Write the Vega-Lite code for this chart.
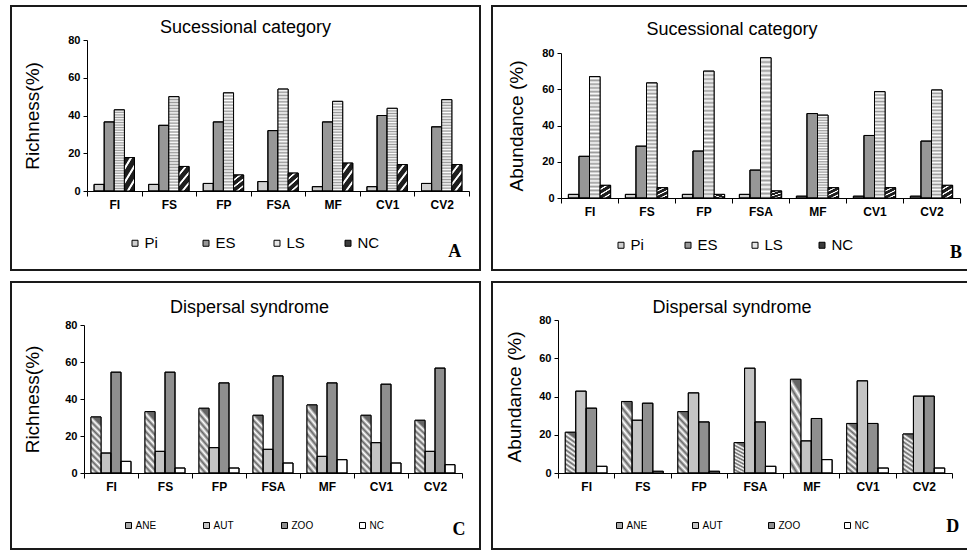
{
  "$schema": "https://vega.github.io/schema/vega-lite/v6.json",
  "padding": {"left": 10, "top": 5, "right": 0, "bottom": 0},
  "background": "white",
  "datasets": {
    "A": [
      {"site": "FI", "cat": "Pi", "value": 3.5}, {"site": "FI", "cat": "ES", "value": 36.6}, {"site": "FI", "cat": "LS", "value": 43}, {"site": "FI", "cat": "NC", "value": 17.7},
      {"site": "FS", "cat": "Pi", "value": 3.5}, {"site": "FS", "cat": "ES", "value": 34.8}, {"site": "FS", "cat": "LS", "value": 50}, {"site": "FS", "cat": "NC", "value": 13},
      {"site": "FP", "cat": "Pi", "value": 4}, {"site": "FP", "cat": "ES", "value": 36.6}, {"site": "FP", "cat": "LS", "value": 52}, {"site": "FP", "cat": "NC", "value": 8.5},
      {"site": "FSA", "cat": "Pi", "value": 5}, {"site": "FSA", "cat": "ES", "value": 32}, {"site": "FSA", "cat": "LS", "value": 54}, {"site": "FSA", "cat": "NC", "value": 9.5},
      {"site": "MF", "cat": "Pi", "value": 2.3}, {"site": "MF", "cat": "ES", "value": 36.6}, {"site": "MF", "cat": "LS", "value": 47.5}, {"site": "MF", "cat": "NC", "value": 14.8},
      {"site": "CV1", "cat": "Pi", "value": 2.3}, {"site": "CV1", "cat": "ES", "value": 40}, {"site": "CV1", "cat": "LS", "value": 43.8}, {"site": "CV1", "cat": "NC", "value": 14},
      {"site": "CV2", "cat": "Pi", "value": 4}, {"site": "CV2", "cat": "ES", "value": 34}, {"site": "CV2", "cat": "LS", "value": 48.4}, {"site": "CV2", "cat": "NC", "value": 14}
    ],
    "B": [
      {"site": "FI", "cat": "Pi", "value": 2}, {"site": "FI", "cat": "ES", "value": 23}, {"site": "FI", "cat": "LS", "value": 67}, {"site": "FI", "cat": "NC", "value": 7},
      {"site": "FS", "cat": "Pi", "value": 2}, {"site": "FS", "cat": "ES", "value": 28.6}, {"site": "FS", "cat": "LS", "value": 63.5}, {"site": "FS", "cat": "NC", "value": 5.7},
      {"site": "FP", "cat": "Pi", "value": 2}, {"site": "FP", "cat": "ES", "value": 25.9}, {"site": "FP", "cat": "LS", "value": 70}, {"site": "FP", "cat": "NC", "value": 2},
      {"site": "FSA", "cat": "Pi", "value": 2}, {"site": "FSA", "cat": "ES", "value": 15.4}, {"site": "FSA", "cat": "LS", "value": 77.4}, {"site": "FSA", "cat": "NC", "value": 3.9},
      {"site": "MF", "cat": "Pi", "value": 1}, {"site": "MF", "cat": "ES", "value": 46.6}, {"site": "MF", "cat": "LS", "value": 45.7}, {"site": "MF", "cat": "NC", "value": 5.7},
      {"site": "CV1", "cat": "Pi", "value": 1}, {"site": "CV1", "cat": "ES", "value": 34.5}, {"site": "CV1", "cat": "LS", "value": 58.7}, {"site": "CV1", "cat": "NC", "value": 5.7},
      {"site": "CV2", "cat": "Pi", "value": 1}, {"site": "CV2", "cat": "ES", "value": 31.4}, {"site": "CV2", "cat": "LS", "value": 59.6}, {"site": "CV2", "cat": "NC", "value": 7}
    ],
    "C": [
      {"site": "FI", "cat": "ANE", "value": 30.3}, {"site": "FI", "cat": "AUT", "value": 10.8}, {"site": "FI", "cat": "ZOO", "value": 54.5}, {"site": "FI", "cat": "NC", "value": 6.3},
      {"site": "FS", "cat": "ANE", "value": 33.2}, {"site": "FS", "cat": "AUT", "value": 11.7}, {"site": "FS", "cat": "ZOO", "value": 54.5}, {"site": "FS", "cat": "NC", "value": 2.7},
      {"site": "FP", "cat": "ANE", "value": 35}, {"site": "FP", "cat": "AUT", "value": 13.7}, {"site": "FP", "cat": "ZOO", "value": 48.7}, {"site": "FP", "cat": "NC", "value": 2.7},
      {"site": "FSA", "cat": "ANE", "value": 31.2}, {"site": "FSA", "cat": "AUT", "value": 12.8}, {"site": "FSA", "cat": "ZOO", "value": 52.5}, {"site": "FSA", "cat": "NC", "value": 5.4},
      {"site": "MF", "cat": "ANE", "value": 36.8}, {"site": "MF", "cat": "AUT", "value": 9}, {"site": "MF", "cat": "ZOO", "value": 48.7}, {"site": "MF", "cat": "NC", "value": 7.2},
      {"site": "CV1", "cat": "ANE", "value": 31.2}, {"site": "CV1", "cat": "AUT", "value": 16.4}, {"site": "CV1", "cat": "ZOO", "value": 48}, {"site": "CV1", "cat": "NC", "value": 5.4},
      {"site": "CV2", "cat": "ANE", "value": 28.5}, {"site": "CV2", "cat": "AUT", "value": 11.7}, {"site": "CV2", "cat": "ZOO", "value": 56.7}, {"site": "CV2", "cat": "NC", "value": 4.5}
    ],
    "D": [
      {"site": "FI", "cat": "ANE", "value": 21.3}, {"site": "FI", "cat": "AUT", "value": 42.8}, {"site": "FI", "cat": "ZOO", "value": 33.9}, {"site": "FI", "cat": "NC", "value": 3.5},
      {"site": "FS", "cat": "ANE", "value": 37.4}, {"site": "FS", "cat": "AUT", "value": 27.6}, {"site": "FS", "cat": "ZOO", "value": 36.5}, {"site": "FS", "cat": "NC", "value": 0.9},
      {"site": "FP", "cat": "ANE", "value": 32.1}, {"site": "FP", "cat": "AUT", "value": 41.9}, {"site": "FP", "cat": "ZOO", "value": 26.7}, {"site": "FP", "cat": "NC", "value": 0.9},
      {"site": "FSA", "cat": "ANE", "value": 15.9}, {"site": "FSA", "cat": "AUT", "value": 54.8}, {"site": "FSA", "cat": "ZOO", "value": 26.7}, {"site": "FSA", "cat": "NC", "value": 3.5},
      {"site": "MF", "cat": "ANE", "value": 49}, {"site": "MF", "cat": "AUT", "value": 16.8}, {"site": "MF", "cat": "ZOO", "value": 28.5}, {"site": "MF", "cat": "NC", "value": 7},
      {"site": "CV1", "cat": "ANE", "value": 25.9}, {"site": "CV1", "cat": "AUT", "value": 48.2}, {"site": "CV1", "cat": "ZOO", "value": 25.9}, {"site": "CV1", "cat": "NC", "value": 2.6},
      {"site": "CV2", "cat": "ANE", "value": 20.4}, {"site": "CV2", "cat": "AUT", "value": 40.2}, {"site": "CV2", "cat": "ZOO", "value": 40.2}, {"site": "CV2", "cat": "NC", "value": 2.6}
    ]
  },
  "columns": 2,
  "spacing": 12,
  "bounds": "flush",
  "resolve": {"scale": {"fill": "independent", "xOffset": "independent", "x": "independent", "y": "independent"}, "legend": {"fill": "independent"}, "axis": {"x": "independent", "y": "independent"}},
  "concat": [
    {
      "width": 469, "height": 264,
      "title": {"text": "Sucessional category", "offset": -21, "dy": 19, "baseline": "middle", "anchor": "middle", "frame": "group"},
      "layer": [
        {
          "data": {"name": "A"},
          "mark": {"type": "bar", "stroke": "#000", "strokeWidth": 1},
          "encoding": {
            "x": {"field": "site", "type": "nominal", "sort": ["FI", "FS", "FP", "FSA", "MF", "CV1", "CV2"],
              "scale": {"domain": ["FI", "FS", "FP", "FSA", "MF", "CV1", "CV2"], "range": [76, 458], "paddingInner": 0, "paddingOuter": 0},
              "axis": {"title": null, "orient": "bottom", "offset": -79, "labelAngle": 0, "tickBand": "extent", "tickSize": 5, "labelPadding": 3}},
            "xOffset": {"field": "cat", "type": "nominal", "sort": ["Pi", "ES", "LS", "NC"], "scale": {"domain": ["Pi", "ES", "LS", "NC"], "paddingOuter": 0.7, "paddingInner": 0}},
            "y": {"field": "value", "type": "quantitative",
              "scale": {"domain": [0, 80], "range": [185, 34]},
              "axis": {"title": "Richness(%)", "offset": -76, "values": [0, 20, 40, 60, 80], "tickSize": 4, "labelPadding": 3, "titlePadding": 25}},
            "fill": {"field": "cat", "type": "nominal", "sort": ["Pi", "ES", "LS", "NC"],
              "scale": {"domain": ["Pi", "ES", "LS", "NC"], "range": ["#cfcfcf", "#979797", "#e6e6e6", "#3c3c3c"]},
              "legend": {"title": null, "orient": "none", "legendX": 116.5, "legendY": 229.5, "direction": "horizontal", "columns": 4, "gridAlign": "all", "columnPadding": 32, "labelFontSize": 15, "labelOffset": 2, "padding": 0}}
          }
        },
        {
          "data": {"name": "A"},
          "mark": {"type": "bar", "stroke": "#000", "strokeWidth": 1},
          "encoding": {
            "x": {"field": "site", "type": "nominal"},
            "xOffset": {"field": "cat", "type": "nominal"},
            "y": {"field": "value", "type": "quantitative"},
            "fill": {
              "condition": [
                {"test": "datum.cat === 'LS'", "value": {"gradient": "linear", "x1": 0, "y1": 0, "x2": 0, "y2": 1, "stops": [{"offset":0,"color":"#9a9a9a"},{"offset":0.015625,"color":"#fff"},{"offset":0.03125,"color":"#9a9a9a"},{"offset":0.046875,"color":"#fff"},{"offset":0.0625,"color":"#9a9a9a"},{"offset":0.078125,"color":"#fff"},{"offset":0.09375,"color":"#9a9a9a"},{"offset":0.109375,"color":"#fff"},{"offset":0.125,"color":"#9a9a9a"},{"offset":0.140625,"color":"#fff"},{"offset":0.15625,"color":"#9a9a9a"},{"offset":0.171875,"color":"#fff"},{"offset":0.1875,"color":"#9a9a9a"},{"offset":0.203125,"color":"#fff"},{"offset":0.21875,"color":"#9a9a9a"},{"offset":0.234375,"color":"#fff"},{"offset":0.25,"color":"#9a9a9a"},{"offset":0.265625,"color":"#fff"},{"offset":0.28125,"color":"#9a9a9a"},{"offset":0.296875,"color":"#fff"},{"offset":0.3125,"color":"#9a9a9a"},{"offset":0.328125,"color":"#fff"},{"offset":0.34375,"color":"#9a9a9a"},{"offset":0.359375,"color":"#fff"},{"offset":0.375,"color":"#9a9a9a"},{"offset":0.390625,"color":"#fff"},{"offset":0.40625,"color":"#9a9a9a"},{"offset":0.421875,"color":"#fff"},{"offset":0.4375,"color":"#9a9a9a"},{"offset":0.453125,"color":"#fff"},{"offset":0.46875,"color":"#9a9a9a"},{"offset":0.484375,"color":"#fff"},{"offset":0.5,"color":"#9a9a9a"},{"offset":0.515625,"color":"#fff"},{"offset":0.53125,"color":"#9a9a9a"},{"offset":0.546875,"color":"#fff"},{"offset":0.5625,"color":"#9a9a9a"},{"offset":0.578125,"color":"#fff"},{"offset":0.59375,"color":"#9a9a9a"},{"offset":0.609375,"color":"#fff"},{"offset":0.625,"color":"#9a9a9a"},{"offset":0.640625,"color":"#fff"},{"offset":0.65625,"color":"#9a9a9a"},{"offset":0.671875,"color":"#fff"},{"offset":0.6875,"color":"#9a9a9a"},{"offset":0.703125,"color":"#fff"},{"offset":0.71875,"color":"#9a9a9a"},{"offset":0.734375,"color":"#fff"},{"offset":0.75,"color":"#9a9a9a"},{"offset":0.765625,"color":"#fff"},{"offset":0.78125,"color":"#9a9a9a"},{"offset":0.796875,"color":"#fff"},{"offset":0.8125,"color":"#9a9a9a"},{"offset":0.828125,"color":"#fff"},{"offset":0.84375,"color":"#9a9a9a"},{"offset":0.859375,"color":"#fff"},{"offset":0.875,"color":"#9a9a9a"},{"offset":0.890625,"color":"#fff"},{"offset":0.90625,"color":"#9a9a9a"},{"offset":0.921875,"color":"#fff"},{"offset":0.9375,"color":"#9a9a9a"},{"offset":0.953125,"color":"#fff"},{"offset":0.96875,"color":"#9a9a9a"},{"offset":0.984375,"color":"#fff"},{"offset":1,"color":"#9a9a9a"}]}},
                {"test": "datum.cat === 'NC'", "value": {"gradient": "linear", "x1": 0, "y1": 0, "x2": 0.5, "y2": 1, "stops": [{"offset":0,"color":"#1e1e1e"},{"offset":0.2,"color":"#1e1e1e"},{"offset":0.24,"color":"#fff"},{"offset":0.3,"color":"#fff"},{"offset":0.333,"color":"#1e1e1e"},{"offset":0.533,"color":"#1e1e1e"},{"offset":0.573,"color":"#fff"},{"offset":0.633,"color":"#fff"},{"offset":0.667,"color":"#1e1e1e"},{"offset":0.867,"color":"#1e1e1e"},{"offset":0.907,"color":"#fff"},{"offset":0.967,"color":"#fff"},{"offset":1,"color":"#1e1e1e"}]}}
              ],
              "value": "transparent"
            }
          }
        },
        {
          "data": {"values": [{"t": "A"}]},
          "mark": {"type": "text", "font": "Liberation Serif", "fontWeight": "bold", "fontSize": 18, "align": "center", "baseline": "middle", "dx": 13, "color": "#000"},
          "encoding": {"x": {"datum": "CV2", "type": "nominal"}, "y": {"datum": -32.3, "type": "quantitative"}, "text": {"field": "t"}}
        }
      ]
    },
    {
      "width": 480, "height": 264,
      "title": {"text": "Sucessional category", "offset": -22, "dy": 20, "baseline": "middle", "anchor": "middle", "frame": "group"},
      "layer": [
        {
          "data": {"name": "B"},
          "mark": {"type": "bar", "stroke": "#000", "strokeWidth": 1},
          "encoding": {
            "x": {"field": "site", "type": "nominal", "sort": ["FI", "FS", "FP", "FSA", "MF", "CV1", "CV2"],
              "scale": {"domain": ["FI", "FS", "FP", "FSA", "MF", "CV1", "CV2"], "range": [69, 468], "paddingInner": 0, "paddingOuter": 0},
              "axis": {"title": null, "orient": "bottom", "offset": -72, "labelAngle": 0, "tickBand": "extent", "tickSize": 5, "labelPadding": 3}},
            "xOffset": {"field": "cat", "type": "nominal", "sort": ["Pi", "ES", "LS", "NC"], "scale": {"domain": ["Pi", "ES", "LS", "NC"], "paddingOuter": 0.7, "paddingInner": 0}},
            "y": {"field": "value", "type": "quantitative",
              "scale": {"domain": [0, 80], "range": [192, 47]},
              "axis": {"title": "Abundance (%)", "offset": -69, "values": [0, 20, 40, 60, 80], "tickSize": 4, "labelPadding": 3, "titlePadding": 15}},
            "fill": {"field": "cat", "type": "nominal", "sort": ["Pi", "ES", "LS", "NC"],
              "scale": {"domain": ["Pi", "ES", "LS", "NC"], "range": ["#cfcfcf", "#979797", "#e6e6e6", "#3c3c3c"]},
              "legend": {"title": null, "orient": "none", "legendX": 121.5, "legendY": 231.5, "direction": "horizontal", "columns": 4, "gridAlign": "all", "columnPadding": 28, "labelFontSize": 15, "labelOffset": 2, "padding": 0}}
          }
        },
        {
          "data": {"name": "B"},
          "mark": {"type": "bar", "stroke": "#000", "strokeWidth": 1},
          "encoding": {
            "x": {"field": "site", "type": "nominal"},
            "xOffset": {"field": "cat", "type": "nominal"},
            "y": {"field": "value", "type": "quantitative"},
            "fill": {
              "condition": [
                {"test": "datum.cat === 'LS'", "value": {"gradient": "linear", "x1": 0, "y1": 0, "x2": 0, "y2": 1, "stops": [{"offset":0,"color":"#9a9a9a"},{"offset":0.015625,"color":"#fff"},{"offset":0.03125,"color":"#9a9a9a"},{"offset":0.046875,"color":"#fff"},{"offset":0.0625,"color":"#9a9a9a"},{"offset":0.078125,"color":"#fff"},{"offset":0.09375,"color":"#9a9a9a"},{"offset":0.109375,"color":"#fff"},{"offset":0.125,"color":"#9a9a9a"},{"offset":0.140625,"color":"#fff"},{"offset":0.15625,"color":"#9a9a9a"},{"offset":0.171875,"color":"#fff"},{"offset":0.1875,"color":"#9a9a9a"},{"offset":0.203125,"color":"#fff"},{"offset":0.21875,"color":"#9a9a9a"},{"offset":0.234375,"color":"#fff"},{"offset":0.25,"color":"#9a9a9a"},{"offset":0.265625,"color":"#fff"},{"offset":0.28125,"color":"#9a9a9a"},{"offset":0.296875,"color":"#fff"},{"offset":0.3125,"color":"#9a9a9a"},{"offset":0.328125,"color":"#fff"},{"offset":0.34375,"color":"#9a9a9a"},{"offset":0.359375,"color":"#fff"},{"offset":0.375,"color":"#9a9a9a"},{"offset":0.390625,"color":"#fff"},{"offset":0.40625,"color":"#9a9a9a"},{"offset":0.421875,"color":"#fff"},{"offset":0.4375,"color":"#9a9a9a"},{"offset":0.453125,"color":"#fff"},{"offset":0.46875,"color":"#9a9a9a"},{"offset":0.484375,"color":"#fff"},{"offset":0.5,"color":"#9a9a9a"},{"offset":0.515625,"color":"#fff"},{"offset":0.53125,"color":"#9a9a9a"},{"offset":0.546875,"color":"#fff"},{"offset":0.5625,"color":"#9a9a9a"},{"offset":0.578125,"color":"#fff"},{"offset":0.59375,"color":"#9a9a9a"},{"offset":0.609375,"color":"#fff"},{"offset":0.625,"color":"#9a9a9a"},{"offset":0.640625,"color":"#fff"},{"offset":0.65625,"color":"#9a9a9a"},{"offset":0.671875,"color":"#fff"},{"offset":0.6875,"color":"#9a9a9a"},{"offset":0.703125,"color":"#fff"},{"offset":0.71875,"color":"#9a9a9a"},{"offset":0.734375,"color":"#fff"},{"offset":0.75,"color":"#9a9a9a"},{"offset":0.765625,"color":"#fff"},{"offset":0.78125,"color":"#9a9a9a"},{"offset":0.796875,"color":"#fff"},{"offset":0.8125,"color":"#9a9a9a"},{"offset":0.828125,"color":"#fff"},{"offset":0.84375,"color":"#9a9a9a"},{"offset":0.859375,"color":"#fff"},{"offset":0.875,"color":"#9a9a9a"},{"offset":0.890625,"color":"#fff"},{"offset":0.90625,"color":"#9a9a9a"},{"offset":0.921875,"color":"#fff"},{"offset":0.9375,"color":"#9a9a9a"},{"offset":0.953125,"color":"#fff"},{"offset":0.96875,"color":"#9a9a9a"},{"offset":0.984375,"color":"#fff"},{"offset":1,"color":"#9a9a9a"}]}},
                {"test": "datum.cat === 'NC'", "value": {"gradient": "linear", "x1": 0, "y1": 0, "x2": 0.5, "y2": 1, "stops": [{"offset":0,"color":"#1e1e1e"},{"offset":0.2,"color":"#1e1e1e"},{"offset":0.24,"color":"#fff"},{"offset":0.3,"color":"#fff"},{"offset":0.333,"color":"#1e1e1e"},{"offset":0.533,"color":"#1e1e1e"},{"offset":0.573,"color":"#fff"},{"offset":0.633,"color":"#fff"},{"offset":0.667,"color":"#1e1e1e"},{"offset":0.867,"color":"#1e1e1e"},{"offset":0.907,"color":"#fff"},{"offset":0.967,"color":"#fff"},{"offset":1,"color":"#1e1e1e"}]}}
              ],
              "value": "transparent"
            }
          }
        },
        {
          "data": {"values": [{"t": "B"}]},
          "mark": {"type": "text", "font": "Liberation Serif", "fontWeight": "bold", "fontSize": 18, "align": "center", "baseline": "middle", "dx": 24.5, "color": "#000"},
          "encoding": {"x": {"datum": "CV2", "type": "nominal"}, "y": {"datum": -30.3, "type": "quantitative"}, "text": {"field": "t"}}
        }
      ]
    },
    {
      "width": 469, "height": 267,
      "title": {"text": "Dispersal syndrome", "offset": -23, "dy": 21, "baseline": "middle", "anchor": "middle", "frame": "group", "dx": 4},
      "layer": [
        {
          "data": {"name": "C"},
          "mark": {"type": "bar", "stroke": "#000", "strokeWidth": 1},
          "encoding": {
            "x": {"field": "site", "type": "nominal", "sort": ["FI", "FS", "FP", "FSA", "MF", "CV1", "CV2"],
              "scale": {"domain": ["FI", "FS", "FP", "FSA", "MF", "CV1", "CV2"], "range": [73, 451], "paddingInner": 0, "paddingOuter": 0},
              "axis": {"title": null, "orient": "bottom", "offset": -76, "labelAngle": 0, "tickBand": "extent", "tickSize": 5, "labelPadding": 3}},
            "xOffset": {"field": "cat", "type": "nominal", "sort": ["ANE", "AUT", "ZOO", "NC"], "scale": {"domain": ["ANE", "AUT", "ZOO", "NC"], "paddingOuter": 0.7, "paddingInner": 0}},
            "y": {"field": "value", "type": "quantitative",
              "scale": {"domain": [0, 80], "range": [191, 43]},
              "axis": {"title": "Richness(%)", "offset": -73, "values": [0, 20, 40, 60, 80], "tickSize": 4, "labelPadding": 3, "titlePadding": 22}},
            "fill": {"field": "cat", "type": "nominal", "sort": ["ANE", "AUT", "ZOO", "NC"],
              "scale": {"domain": ["ANE", "AUT", "ZOO", "NC"], "range": ["#a9a9a9", "#c4c4c4", "#8f8f8f", "#ffffff"]},
              "legend": {"title": null, "orient": "none", "legendX": 112.5, "legendY": 238.5, "direction": "horizontal", "columns": 4, "gridAlign": "all", "columnPadding": 44, "labelFontSize": 10, "labelOffset": 2, "padding": 0}}
          }
        },
        {
          "data": {"name": "C"},
          "mark": {"type": "bar", "stroke": "#000", "strokeWidth": 1},
          "encoding": {
            "x": {"field": "site", "type": "nominal"},
            "xOffset": {"field": "cat", "type": "nominal"},
            "y": {"field": "value", "type": "quantitative"},
            "fill": {
              "condition": [
                {"test": "datum.cat === 'ANE'", "value": {"gradient": "linear", "x1": 0.18, "y1": 0, "x2": 0, "y2": 1, "stops": [{"offset":0,"color":"#666666"},{"offset":0.0556,"color":"#fff"},{"offset":0.1111,"color":"#666666"},{"offset":0.1667,"color":"#fff"},{"offset":0.2222,"color":"#666666"},{"offset":0.2778,"color":"#fff"},{"offset":0.3333,"color":"#666666"},{"offset":0.3889,"color":"#fff"},{"offset":0.4444,"color":"#666666"},{"offset":0.5,"color":"#fff"},{"offset":0.5556,"color":"#666666"},{"offset":0.6111,"color":"#fff"},{"offset":0.6667,"color":"#666666"},{"offset":0.7222,"color":"#fff"},{"offset":0.7778,"color":"#666666"},{"offset":0.8333,"color":"#fff"},{"offset":0.8889,"color":"#666666"},{"offset":0.9444,"color":"#fff"},{"offset":1,"color":"#666666"}]}}
              ],
              "value": "transparent"
            }
          }
        },
        {
          "data": {"values": [{"t": "C"}]},
          "mark": {"type": "text", "font": "Liberation Serif", "fontWeight": "bold", "fontSize": 18, "align": "center", "baseline": "middle", "dx": 24, "color": "#000"},
          "encoding": {"x": {"datum": "CV2", "type": "nominal"}, "y": {"datum": -30.8, "type": "quantitative"}, "text": {"field": "t"}}
        }
      ]
    },
    {
      "width": 480, "height": 267,
      "title": {"text": "Dispersal syndrome", "offset": -23, "dy": 21, "baseline": "middle", "anchor": "middle", "frame": "group"},
      "layer": [
        {
          "data": {"name": "D"},
          "mark": {"type": "bar", "stroke": "#000", "strokeWidth": 1},
          "encoding": {
            "x": {"field": "site", "type": "nominal", "sort": ["FI", "FS", "FP", "FSA", "MF", "CV1", "CV2"],
              "scale": {"domain": ["FI", "FS", "FP", "FSA", "MF", "CV1", "CV2"], "range": [66, 460], "paddingInner": 0, "paddingOuter": 0},
              "axis": {"title": null, "orient": "bottom", "offset": -76, "labelAngle": 0, "tickBand": "extent", "tickSize": 5, "labelPadding": 3}},
            "xOffset": {"field": "cat", "type": "nominal", "sort": ["ANE", "AUT", "ZOO", "NC"], "scale": {"domain": ["ANE", "AUT", "ZOO", "NC"], "paddingOuter": 0.7, "paddingInner": 0}},
            "y": {"field": "value", "type": "quantitative",
              "scale": {"domain": [0, 80], "range": [191, 38]},
              "axis": {"title": "Abundance (%)", "offset": -66, "values": [0, 20, 40, 60, 80], "tickSize": 4, "labelPadding": 3, "titlePadding": 14}},
            "fill": {"field": "cat", "type": "nominal", "sort": ["ANE", "AUT", "ZOO", "NC"],
              "scale": {"domain": ["ANE", "AUT", "ZOO", "NC"], "range": ["#a9a9a9", "#c4c4c4", "#8f8f8f", "#ffffff"]},
              "legend": {"title": null, "orient": "none", "legendX": 122.5, "legendY": 238.5, "direction": "horizontal", "columns": 4, "gridAlign": "all", "columnPadding": 42, "labelFontSize": 10, "labelOffset": 2, "padding": 0}}
          }
        },
        {
          "data": {"name": "D"},
          "mark": {"type": "bar", "stroke": "#000", "strokeWidth": 1},
          "encoding": {
            "x": {"field": "site", "type": "nominal"},
            "xOffset": {"field": "cat", "type": "nominal"},
            "y": {"field": "value", "type": "quantitative"},
            "fill": {
              "condition": [
                {"test": "datum.cat === 'ANE'", "value": {"gradient": "linear", "x1": 0.18, "y1": 0, "x2": 0, "y2": 1, "stops": [{"offset":0,"color":"#666666"},{"offset":0.0556,"color":"#fff"},{"offset":0.1111,"color":"#666666"},{"offset":0.1667,"color":"#fff"},{"offset":0.2222,"color":"#666666"},{"offset":0.2778,"color":"#fff"},{"offset":0.3333,"color":"#666666"},{"offset":0.3889,"color":"#fff"},{"offset":0.4444,"color":"#666666"},{"offset":0.5,"color":"#fff"},{"offset":0.5556,"color":"#666666"},{"offset":0.6111,"color":"#fff"},{"offset":0.6667,"color":"#666666"},{"offset":0.7222,"color":"#fff"},{"offset":0.7778,"color":"#666666"},{"offset":0.8333,"color":"#fff"},{"offset":0.8889,"color":"#666666"},{"offset":0.9444,"color":"#fff"},{"offset":1,"color":"#666666"}]}}
              ],
              "value": "transparent"
            }
          }
        },
        {
          "data": {"values": [{"t": "D"}]},
          "mark": {"type": "text", "font": "Liberation Serif", "fontWeight": "bold", "fontSize": 18, "align": "center", "baseline": "middle", "dx": 29, "color": "#000"},
          "encoding": {"x": {"datum": "CV2", "type": "nominal"}, "y": {"datum": -28.2, "type": "quantitative"}, "text": {"field": "t"}}
        }
      ]
    }
  ],
  "config": {
    "font": "Liberation Sans",
    "view": {"stroke": "#1a1a1a", "strokeWidth": 2},
    "title": {"fontSize": 18, "fontWeight": "normal", "color": "#000", "font": "Liberation Sans"},
    "axis": {"grid": false, "domainColor": "#000", "tickColor": "#000", "labelColor": "#000", "titleColor": "#000", "labelFontSize": 11, "labelFontWeight": "bold", "titleFontSize": 19, "titleFontWeight": "normal", "labelFont": "Liberation Sans", "titleFont": "Liberation Sans"},
    "axisX": {"labelFontSize": 12},
    "legend": {"symbolType": "square", "symbolSize": 36, "symbolStrokeColor": "#000", "symbolStrokeWidth": 1, "labelColor": "#000", "labelFont": "Liberation Sans"}
  }
}
